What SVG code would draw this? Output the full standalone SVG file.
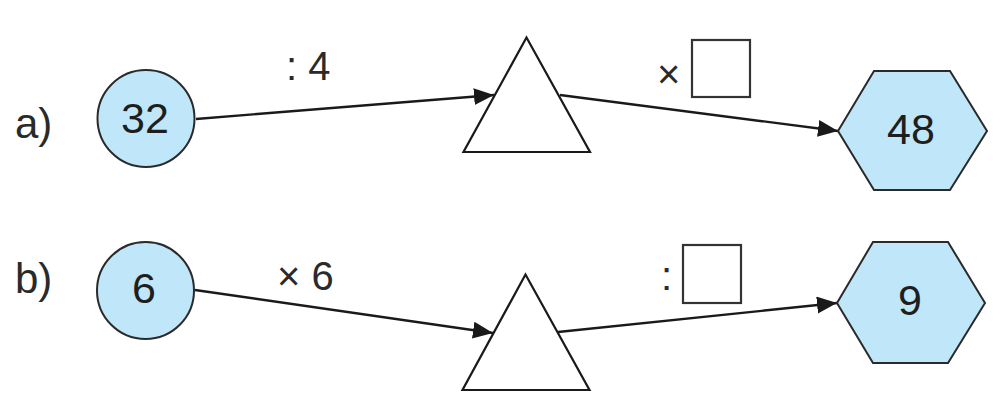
<svg xmlns="http://www.w3.org/2000/svg" width="1006" height="418" viewBox="0 0 1006 418">
  <style>
    .bg { fill: #ffffff; }
    .node { fill: #bfe6f9; stroke: #2a2a2a; stroke-width: 2; }
    .tri { fill: #ffffff; stroke: #1a1a1a; stroke-width: 2.2; stroke-linejoin: miter; }
    .box { fill: #ffffff; stroke: #333333; stroke-width: 2.2; }
    .num { font-family: "Liberation Sans", Arial, sans-serif; font-size: 43px; fill: #1e1e1e; text-anchor: middle; }
    .lbl { font-family: "Liberation Sans", Arial, sans-serif; font-size: 42px; fill: #2a2a2a; }
    .op { font-family: "Liberation Sans", Arial, sans-serif; font-size: 40px; fill: #2a2a2a; }
    .edge { fill: none; stroke: #1a1a1a; stroke-width: 2.4; marker-end: url(#arrow); }
  </style>
  <defs>
    <marker id="arrow" markerUnits="userSpaceOnUse" markerWidth="22" markerHeight="18" refX="20" refY="8.5" orient="auto">
      <path d="M0,0 L20,8.5 L0,17 Z" fill="#1a1a1a"/>
    </marker>
  </defs>
  <rect class="bg" x="0" y="0" width="1006" height="418"/>

  <g id="labels">
    <text class="lbl" x="15" y="138">a)</text>
    <text class="lbl" x="15" y="293">b)</text>
  </g>

  <g id="connectors">
    <line class="edge" x1="196" y1="119" x2="494" y2="95"/>
    <line class="edge" x1="560" y1="95" x2="838" y2="131"/>
    <line class="edge" x1="195" y1="290" x2="493" y2="333"/>
    <line class="edge" x1="558" y1="332" x2="837" y2="303"/>
  </g>

  <g id="op-a1">
    <text class="op" x="286" y="80">: 4</text>
  </g>
  <g id="op-a2">
    <text class="op" x="657" y="88">×</text>
    <rect class="box" x="692" y="40" width="58" height="57"/>
  </g>
  <g id="op-b1">
    <text class="op" x="277" y="290">× 6</text>
  </g>
  <g id="op-b2">
    <text class="op" x="661" y="290">:</text>
    <rect class="box" x="683" y="245" width="58" height="58"/>
  </g>

  <g id="node-a-start">
    <circle class="node" cx="146" cy="118.5" r="48.5"/>
    <text class="num" x="145" y="133">32</text>
  </g>
  <g id="node-a-mid">
    <polygon class="tri" points="526.5,37.5 463.5,152 590,152"/>
  </g>
  <g id="node-a-end">
    <polygon class="node" points="838,131 874,71 950,71 987,131 950,190 874,190"/>
    <text class="num" x="911" y="144">48</text>
  </g>

  <g id="node-b-start">
    <circle class="node" cx="145.5" cy="290.5" r="48.5"/>
    <text class="num" x="144" y="303">6</text>
  </g>
  <g id="node-b-mid">
    <polygon class="tri" points="525.5,274.5 462.5,390 589.5,390"/>
  </g>
  <g id="node-b-end">
    <polygon class="node" points="837,303 873,242 948,242 985,303 948,363 873,363"/>
    <text class="num" x="910" y="315">9</text>
  </g>
</svg>
